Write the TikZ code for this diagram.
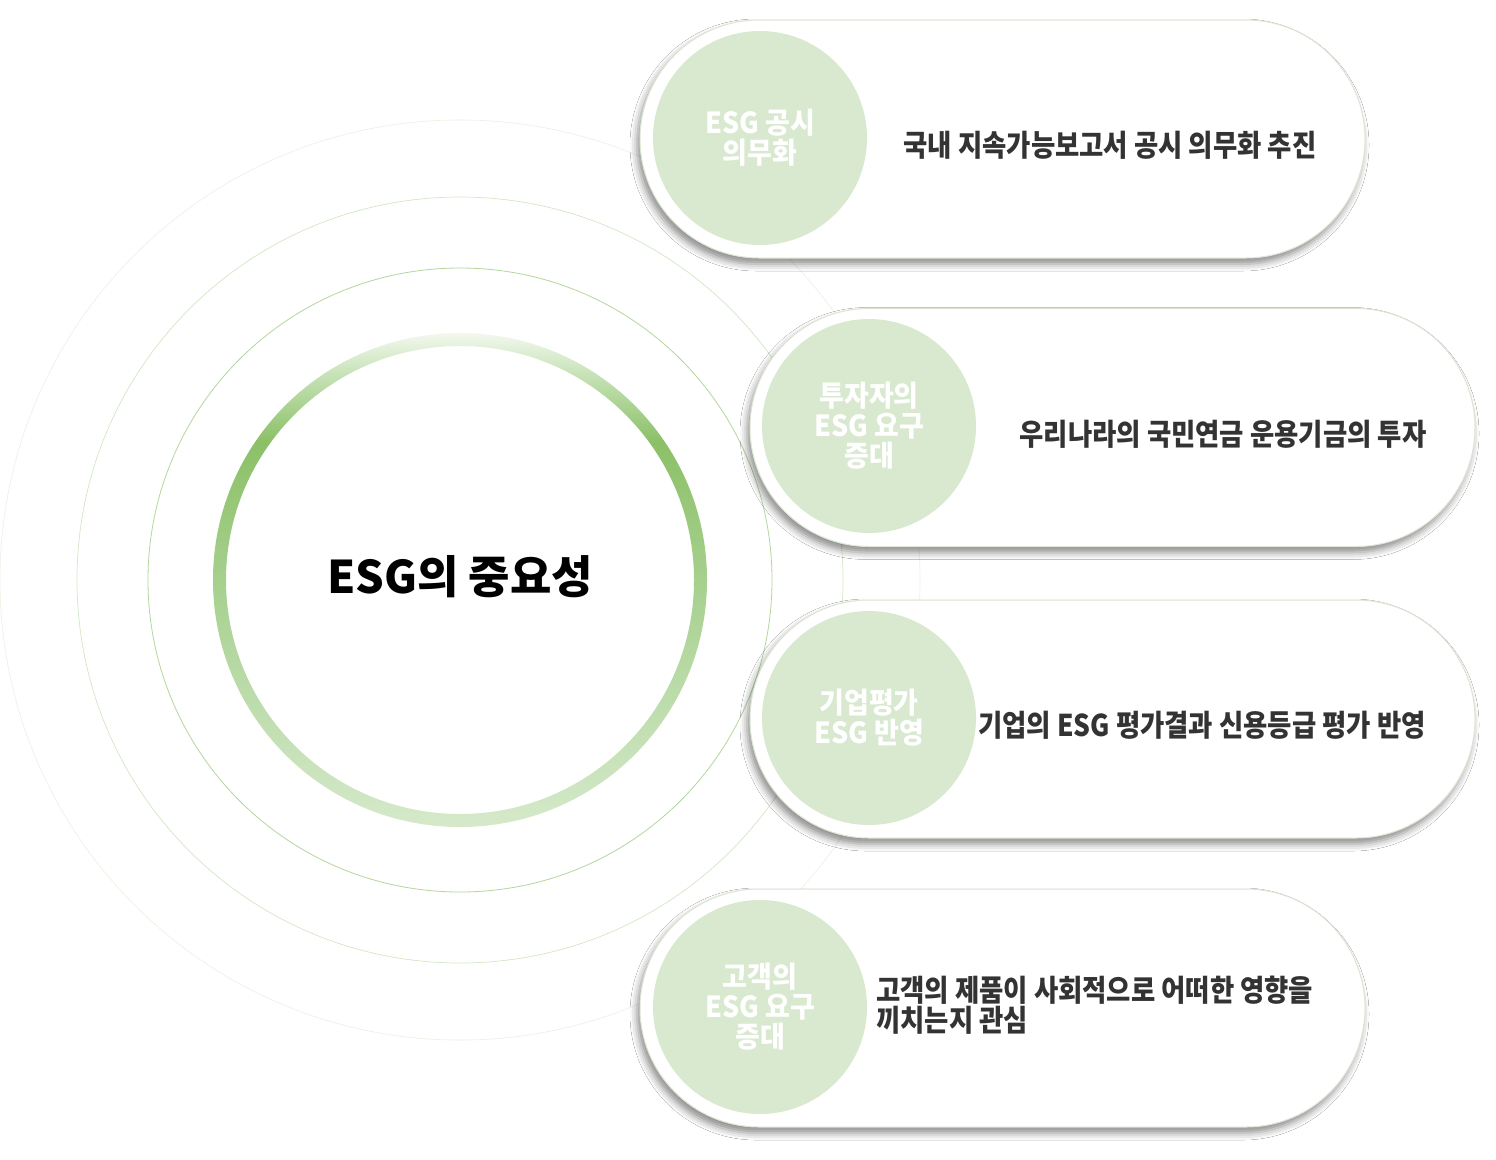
\documentclass[tikz,border=0pt]{standalone}
\usepackage{fontspec}
\newfontfamily\krn[FakeStretch=0.88]{Noto Sans CJK KR}
\newfontfamily\krb[FakeStretch=0.93]{Noto Sans CJK KR}
\newfontfamily\krc{Noto Sans CJK KR}
\usetikzlibrary{shadows.blur,shapes.misc}
\definecolor{ringA}{HTML}{D5E9CA}
\definecolor{ringB}{HTML}{A6D08E}
\definecolor{ringC}{HTML}{8CC067}
\definecolor{ringD}{HTML}{BFDEAD}
\definecolor{ringE}{HTML}{F2F8EE}
\definecolor{thinA}{HTML}{B3D79E}
\definecolor{thinB}{HTML}{D3E7C6}
\definecolor{thinC}{HTML}{E9F2E2}
\definecolor{lgreen}{HTML}{D9E9CF}
\definecolor{pillline}{HTML}{DCE5D2}
\definecolor{txt}{HTML}{333333}
\pgfdeclareverticalshading{ringshade}{100bp}{color(0bp)=(ringA); color(25bp)=(ringA); color(50bp)=(ringB); color(64bp)=(ringC); color(70bp)=(ringD); color(75bp)=(ringE); color(100bp)=(ringE)}
\tikzset{
  pill/.style={shape=rounded rectangle, draw=pillline, line width=1pt, fill=white,
    minimum width=725pt, minimum height=238pt, inner sep=0pt,
    blur shadow={shadow xshift=-3pt, shadow yshift=-6pt, shadow blur radius=7pt, shadow opacity=45}},
  badge/.style={circle, fill=lgreen, minimum size=214pt, inner sep=0pt, text=white,
    align=center, font=\krb\bfseries\fontsize{29}{30}\selectfont},
  desc/.style={text=txt, inner sep=0pt, align=left, font=\krn\bfseries\fontsize{30}{30}\selectfont},
  orbit/.style={line width=0.8pt}
}
\begin{document}
\begin{tikzpicture}[x=1pt,y=-1pt]
\useasboundingbox (0,0) rectangle (1496,1159);
\fill[white] (0,0) rectangle (1496,1159);
\coordinate (c) at (460,580);
% orbits
\draw[orbit, draw=thinC, line width=0.6pt] (c) circle[radius=460pt];
\draw[orbit, draw=thinB, line width=0.7pt] (c) circle[radius=383pt];
\draw[orbit, draw=thinA] (c) circle[radius=312pt];
% gradient ring
\shade[shading=ringshade, even odd rule] (c) circle[radius=247pt] (c) circle[radius=234pt];
\node[font=\krc\bfseries\fontsize{45}{50}\selectfont, text=black] (title) at (460,577) {ESG의 중요성};
% pills
\node[pill] (p1) at (1002.5,139) {};
\node[pill] (p2) at (1112.5,427.5) {};
\node[pill] (p3) at (1112.5,719) {};
\node[pill] (p4) at (1002.5,1008) {};
% badges
\node[badge] (b1) at (760,138) {ESG 공시\\의무화};
\node[badge] (b2) at (869,426) {투자자의\\ESG 요구\\증대};
\node[badge] (b3) at (869,718) {기업평가\\ESG 반영};
\node[badge] (b4) at (760,1007) {고객의\\ESG 요구\\증대};
% descriptions
\node[desc] (d1) at (1110,145) {국내 지속가능보고서 공시 의무화 추진};
\node[desc] (d2) at (1223,434) {우리나라의 국민연금 운용기금의 투자};
\node[desc] (d3) at (1202,725) {기업의 ESG 평가결과 신용등급 평가 반영};
\node[desc, anchor=west] (d4) at (876,1005) {고객의 제품이 사회적으로 어떠한 영향을\\끼치는지 관심};
\end{tikzpicture}
\end{document}
